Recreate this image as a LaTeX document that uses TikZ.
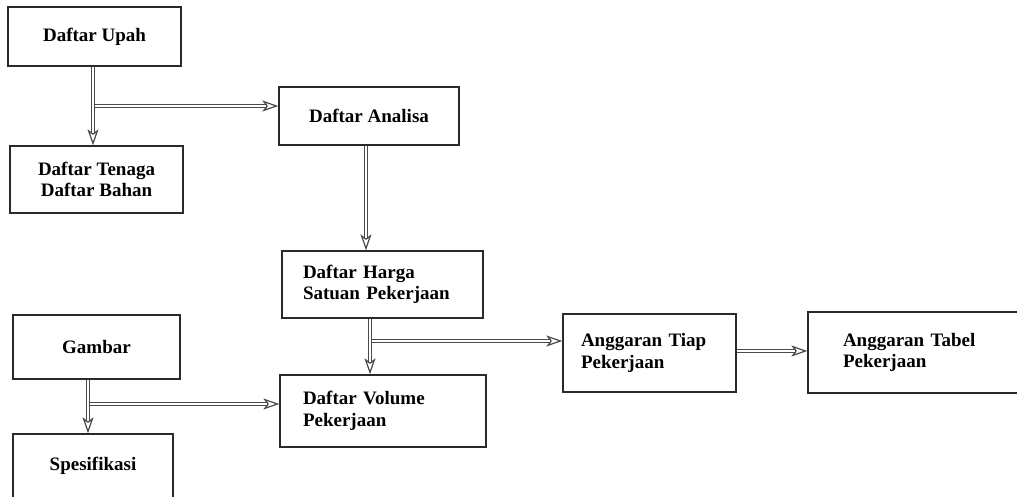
\documentclass[tikz,border=0pt]{standalone}
\usepackage{fontspec}
\setmainfont{Liberation Serif}
\usetikzlibrary{arrows.meta,positioning,calc}
\definecolor{Garis}{HTML}{2A2A2A}
\definecolor{Panah}{HTML}{4A4A4A}
\tikzset{
  kotak/.style={draw=Garis,line width=1.3pt,inner sep=0pt,font=\fontsize{19}{21.5}\selectfont\bfseries,align=center},
  kiri/.style 2 args={text width=#1,inner xsep=#2,align=left},
  alir/.style={draw=Panah,line width=4pt,
    -{Stealth[open,length=16pt,width=11pt,inset=4pt,line width=1.2pt]},
    postaction={draw=white,line width=1.8pt,-{},shorten >=12.5pt}},
}

\begin{document}
\begin{tikzpicture}[x=1pt,y=-1pt]
\useasboundingbox (0,0) rectangle (1017,497);
\clip (0,0) rectangle (1017,497);
\node[kotak,minimum width=173pt,minimum height=59pt] (upah) at (94.5,36.5) {Daftar Upah};
\node[kotak,minimum width=173pt,minimum height=67pt] (tenaga) at (96.5,179.5) {Daftar Tenaga\\Daftar Bahan};
\node[kotak,minimum width=180pt,minimum height=58pt] (analisa) at (369,116) {Daftar Analisa};
\node[kotak,kiri={159pt}{21pt},minimum height=67pt] (harga) at (382.5,284.5) {Daftar Harga\\Satuan Pekerjaan};
\node[kotak,minimum width=167pt,minimum height=64pt] (gambar) at (96.5,347) {Gambar};
\node[kotak,minimum width=160pt,minimum height=64pt] (spesifikasi) at (93,466) {Spesifikasi};
\node[kotak,kiri={160pt}{23pt},minimum height=72pt] (volume) at (383,411) {Daftar Volume\\Pekerjaan};
\node[kotak,kiri={137pt}{18pt},minimum height=78pt] (tiap) at (649.5,353) {Anggaran Tiap\\Pekerjaan};
\node[kotak,kiri={152pt}{35pt},minimum height=81pt] (tabel) at (919,352.5) {Anggaran Tabel\\Pekerjaan};
% cabang panah
\coordinate (c1) at (93,106);
\coordinate (c2) at (366,200);
\coordinate (c3) at (370,341);
\coordinate (c4) at (88,404);
\coordinate (c5) at (750,351);
\draw[alir] (c1) -- (c1 -| analisa.west);
\draw[alir] (c1 |- upah.south) -- (c1 |- tenaga.north);
\draw[alir] (c2 |- analisa.south) -- (c2 |- harga.north);
\draw[alir] (c3) -- (c3 -| tiap.west);
\draw[alir] (c3 |- harga.south) -- (c3 |- volume.north);
\draw[alir] (c4) -- (c4 -| volume.west);
\draw[alir] (c4 |- gambar.south) -- (c4 |- spesifikasi.north);
\draw[alir] (c5 -| tiap.east) -- (c5 -| tabel.west);
\end{tikzpicture}
\end{document}
